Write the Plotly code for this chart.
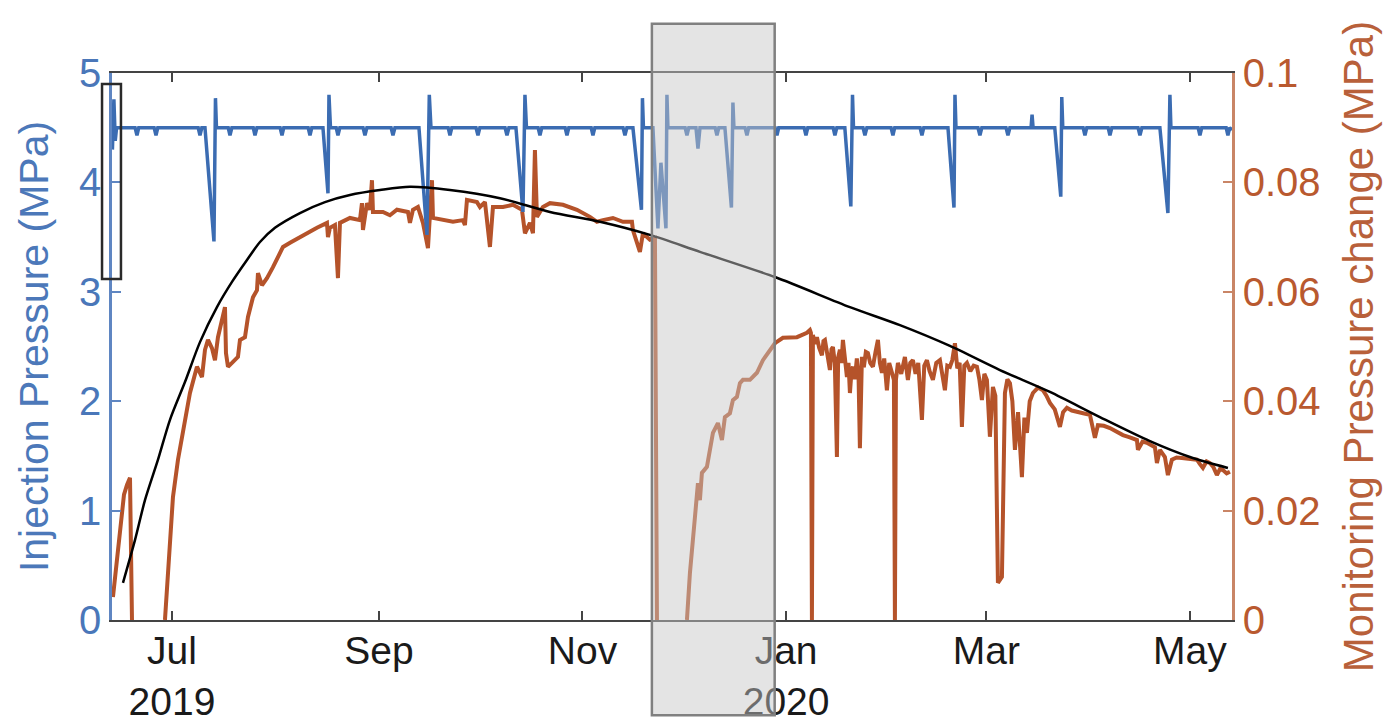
import pandas as pd
import plotly.graph_objects as go

BASE_DATE = "2019-07-01"  # day 0 of the day-offset columns below

# ---------------- Injection pressure (MPa), left axis ----------------
inj_day = [
    -17.85, -17.4, -17.0, -16.6,
    -11.05, -10.49, -9.95,
    -5.35, -4.79, -4.25,
    7.85, 8.39, 8.95,
    9.89, 12.58, 13.03, 13.33,
    16.85, 17.38, 17.95,
    24.35, 24.87, 25.45,
    32.4, 32.96, 33.5,
    40.8, 41.35, 41.9,
    45.24, 46.74, 47.04, 47.49,
    49.2, 49.73, 50.3,
    57.25, 57.82, 58.4,
    65.65, 66.21, 66.8,
    74.0, 76.4, 77.1, 77.6,
    82.75, 83.29, 83.85,
    91.1, 91.68, 92.25,
    99.8, 100.37, 100.95,
    103.06, 105.16, 105.76, 106.21,
    109.7, 110.25, 110.8,
    117.8, 118.34, 118.9,
    125.6, 126.13, 126.7,
    135.15, 135.72, 136.3,
    138.11, 140.66, 140.96, 141.26,
    144.1, 145.6, 146.5, 148.0, 148.3, 148.6,
    153.75, 154.29, 154.85,
    157.0, 157.6, 158.2,
    162.75, 163.28, 163.85,
    165.67, 167.62, 168.07, 168.37,
    171.7, 172.27, 172.8,
    180.7, 181.26, 181.8,
    189.4, 189.95, 190.5,
    198.1, 198.63, 199.2,
    201.6, 203.4, 203.9, 204.2,
    207.05, 207.62, 208.2,
    215.45, 216.01, 216.55,
    224.15, 224.7, 225.25,
    232.5, 234.3, 234.6, 234.9,
    241.5, 242.08, 242.65,
    249.9, 250.47, 251.05,
    257.4, 257.7, 258.0,
    264.5, 266.3, 266.6, 266.9,
    273.0, 273.54, 274.1,
    280.5, 281.03, 281.6,
    289.45, 290.02, 290.6,
    296.0, 298.4, 299.0, 299.3,
    307.45, 307.99, 308.55,
    315.85, 316.38, 316.9,
    317.6,
]
inj_mpa = [
    4.30, 4.76, 4.38, 4.50,
    4.50, 4.43, 4.50,
    4.50, 4.43, 4.50,
    4.50, 4.43, 4.50,
    4.50, 3.46, 4.77, 4.50,
    4.50, 4.43, 4.50,
    4.50, 4.43, 4.50,
    4.50, 4.43, 4.50,
    4.50, 4.43, 4.50,
    4.50, 3.90, 4.80, 4.50,
    4.50, 4.43, 4.50,
    4.50, 4.43, 4.50,
    4.50, 4.43, 4.50,
    4.50, 3.52, 4.80, 4.50,
    4.50, 4.43, 4.50,
    4.50, 4.43, 4.50,
    4.50, 4.43, 4.50,
    4.50, 3.73, 4.80, 4.50,
    4.50, 4.43, 4.50,
    4.50, 4.43, 4.50,
    4.50, 4.43, 4.50,
    4.50, 4.43, 4.50,
    4.50, 3.75, 4.77, 4.50,
    4.50, 3.58, 4.18, 3.58, 4.80, 4.50,
    4.50, 4.43, 4.50,
    4.50, 4.31, 4.50,
    4.50, 4.43, 4.50,
    4.50, 3.77, 4.73, 4.50,
    4.50, 4.43, 4.50,
    4.50, 4.43, 4.50,
    4.50, 4.43, 4.50,
    4.50, 4.43, 4.50,
    4.50, 3.78, 4.80, 4.50,
    4.50, 4.43, 4.50,
    4.50, 4.43, 4.50,
    4.50, 4.43, 4.50,
    4.50, 3.77, 4.80, 4.50,
    4.50, 4.43, 4.50,
    4.50, 4.43, 4.50,
    4.50, 4.62, 4.50,
    4.50, 3.87, 4.78, 4.50,
    4.50, 4.43, 4.50,
    4.50, 4.43, 4.50,
    4.50, 4.43, 4.50,
    4.50, 3.72, 4.80, 4.50,
    4.50, 4.43, 4.50,
    4.50, 4.43, 4.50,
    4.48,
]

# ---------------- Monitoring pressure change (MPa), right axis ----------------
mon_day = [
    -17.68, -16.48, -15.28, -14.38, -13.48, -12.58, -11.98, -7.0,
    -2.10, -0.90, 0.30, 1.80, 3.89, 5.39, 7.49, 8.99, 9.89, 10.79, 11.98, 12.88,
    13.78, 14.98, 15.88, 16.18, 16.78, 17.98, 19.77, 20.37, 21.87, 22.77, 24.27,
    25.47, 25.77, 26.96, 28.46, 30.26, 33.26, 35.5, 38.35, 41.0, 43.44, 46.44, 46.74, 47.34,
    48.83, 49.73, 50.33, 53.33, 56.32, 56.92, 57.22, 58.42, 59.32, 59.92, 60.22,
    63.22, 65.3, 67.41, 70.71, 71.30, 72.20, 73.70, 75.20, 76.70, 77.90, 78.20, 81.19,
    84.19, 87.18, 87.78, 88.38, 91.38, 92.28, 93.77, 95.27, 96.17, 99.17, 102.16,
    104.86, 105.76, 107.26, 108.16, 108.75, 109.35, 111.15, 113.25, 117.14,
    121.34, 125.23, 127.33, 129.13, 132.12, 135.12, 137.82, 138.11, 140.21,
    141.11, 143.21, 144.71, 145.31, 150.0,
    154.29, 155.19, 156.69, 157.59, 158.18, 158.78, 160.28, 162.08, 163.58,
    164.78, 165.67, 167.17, 168.07, 169.27, 170.17, 171.07, 173.17, 175.26,
    177.06, 179.16, 180.66, 183.05, 187.25, 190.25, 191.14, 191.44, 191.74,
    192.04, 192.6, 193.24, 193.9, 194.74, 195.2, 195.64, 196.3, 197.13, 197.6,
    198.03, 198.6, 199.23, 199.6, 200.13, 200.6, 201.03, 201.6, 202.23, 202.7,
    203.13, 203.6, 204.03, 204.6, 205.2, 205.7, 206.12, 206.72, 207.3, 207.9,
    208.52, 209.2, 210.02, 210.8, 211.52, 212.1, 212.72, 213.4, 214.21, 214.9,
    215.6, 216.31, 216.61, 216.91, 217.51, 218.5, 219.60, 220.50, 221.2, 222.00,
    222.8, 223.6, 224.70, 225.4, 226.20, 227.0, 227.99, 229.0, 230.09, 230.8,
    231.59, 232.3, 233.09, 233.8, 234.59, 235.3, 236.0, 236.68, 237.4, 238.18,
    239.2, 240.2, 241.18, 241.9, 242.68, 243.4, 244.17, 245.07, 245.97, 246.7,
    247.47, 248.67, 249.57, 250.3, 251.07, 251.8, 252.57, 253.5, 254.66, 255.4,
    256.16, 257.0, 257.96, 259.5, 260.95, 262.0, 263.05, 264.5, 266.05, 267.0,
    268.14, 269.6, 271.14, 273.0, 275.04, 276.53, 277.43, 279.2, 281.03, 283.0,
    284.92, 287.0, 289.12, 289.42, 290.8, 292.11, 293.3, 294.51, 295.11,
    296.01, 297.50, 298.40, 299.60, 301.0, 302.60, 304.8, 307.09, 308.0, 308.89,
    310.0, 310.98, 312.0, 313.08, 314.0, 314.88, 316.0, 316.98,
]
mon_mpa = [
    0.0042, 0.0110, 0.0183, 0.0229, 0.0247, 0.0260, 0.0, None,
    0.0, 0.0110, 0.0225, 0.0293, 0.0366, 0.0415, 0.0463, 0.0444, 0.0494, 0.0512, 0.0497, 0.0475,
    0.0517, 0.0545, 0.0572, 0.0488, 0.0463, 0.0470, 0.0481, 0.0512, 0.0517, 0.0554, 0.0590,
    0.0603, 0.0634, 0.0612, 0.0625, 0.0645, 0.0682, 0.0690, 0.0700, 0.0708, 0.0717, 0.0726, 0.0700, 0.0717,
    0.0722, 0.0625, 0.0726, 0.0735, 0.0731, 0.0762, 0.0713, 0.0762, 0.0750, 0.0804, 0.0746,
    0.0746, 0.0740, 0.0750, 0.0746, 0.0726, 0.0750, 0.0755, 0.0726, 0.0680, 0.0804, 0.0735, 0.0731,
    0.0728, 0.0731, 0.0722, 0.0768, 0.0764, 0.0755, 0.0764, 0.0682, 0.0755, 0.0755, 0.0759,
    0.0750, 0.0707, 0.0726, 0.0707, 0.0859, 0.0737, 0.0755, 0.0762, 0.0759,
    0.0750, 0.0737, 0.0728, 0.0731, 0.0735, 0.0728, 0.0728, 0.0713, 0.0673,
    0.0707, 0.0695, 0.0698, 0.0, None,
    0.0, 0.0086, 0.0188, 0.0250, 0.0219, 0.0269, 0.0280, 0.0342, 0.0360,
    0.0329, 0.0371, 0.0378, 0.0402, 0.0408, 0.0433, 0.0439, 0.0439, 0.0452,
    0.0475, 0.0494, 0.0506, 0.0516, 0.0517, 0.0525, 0.0530, 0.0525, 0.0,
    0.0521, 0.0505, 0.0517, 0.0498, 0.0484, 0.0510, 0.0512, 0.0490, 0.0457, 0.0495,
    0.0499, 0.0470, 0.0298, 0.0480, 0.0494, 0.0470, 0.0512, 0.0480, 0.0444, 0.0470,
    0.0415, 0.0455, 0.0463, 0.0440, 0.0478, 0.0450, 0.0314, 0.0481, 0.0462, 0.0490,
    0.0488, 0.0470, 0.0463, 0.0490, 0.0512, 0.0470, 0.0452, 0.0478, 0.0420, 0.0470,
    0.0455, 0.0439, 0.0, 0.0439, 0.0470, 0.0450, 0.0481, 0.0439, 0.0470, 0.0475,
    0.0450, 0.0470, 0.0366, 0.0465, 0.0475, 0.0455, 0.0439, 0.0470, 0.0475, 0.0450,
    0.0420, 0.0465, 0.0463, 0.0475, 0.0506, 0.0460, 0.0470, 0.0353, 0.0465, 0.0470,
    0.0455, 0.0465, 0.0463, 0.0440, 0.0402, 0.0450, 0.0439, 0.0335, 0.0426, 0.0410,
    0.0068, 0.0079, 0.0415, 0.0440, 0.0433, 0.0400, 0.0311, 0.0380, 0.0261, 0.0370,
    0.0342, 0.0400, 0.0415, 0.0425, 0.0420, 0.0410, 0.0397, 0.0385, 0.0353, 0.0380,
    0.0388, 0.0383, 0.0380, 0.0378, 0.0375, 0.0333, 0.0356, 0.0355, 0.0351, 0.0345,
    0.0338, 0.0334, 0.0329, 0.0311, 0.0326, 0.0324, 0.0320, 0.0316, 0.0287,
    0.0311, 0.0298, 0.0265, 0.0293, 0.0297, 0.0296, 0.0295, 0.0293, 0.0285, 0.0278,
    0.0290, 0.0287, 0.0280, 0.0265, 0.0276, 0.0274, 0.0268, 0.0271,
]

# ---------------- Fitted trend (black curve), right-axis units ----------------
fit_day = [-14.68, -11.09, -8.09, -4.19, -0.60, 3.89, 8.39, 13.48, 17.98, 22.47, 26.37,
           30.86, 38.35, 45.84, 53.33, 62.32, 71.30, 83.29, 98.27, 113.25, 128.23, 143.21,
           158.19, 180.66, 203.13, 218.11, 233.09, 248.07, 263.05, 278.03, 293.01, 305.0,
           316.38]
fit_mpa = [0.0068, 0.0146, 0.0219, 0.0293, 0.0366, 0.0435, 0.0508, 0.0572, 0.0618, 0.0658,
           0.0691, 0.0717, 0.0744, 0.0764, 0.0777, 0.0786, 0.0792, 0.0786, 0.0771, 0.0746,
           0.0728, 0.0704, 0.0673, 0.0627, 0.0572, 0.0539, 0.0501, 0.0457, 0.0417, 0.0371,
           0.0327, 0.0298, 0.0278]

# ---------------- Axes ticks ----------------
x_tick_dates = ["2019-07-01", "2019-09-01", "2019-11-01", "2020-01-01", "2020-03-01", "2020-05-01"]
x_tick_labels = ["Jul<br>2019", "Sep", "Nov", "Jan<br>2020", "Mar", "May"]
inj_ticks = [0, 1, 2, 3, 4, 5]
mon_ticks = [0, 0.02, 0.04, 0.06, 0.08, 0.1]
mon_tick_labels = ["0", "0.02", "0.04", "0.06", "0.08", "0.1"]

# highlighted period (grey box)
highlight_period = ["2019-11-21 19:00", "2019-12-28 14:00"]


def to_dates(days):
    return pd.Timestamp(BASE_DATE) + pd.to_timedelta(days, unit="D")


BLUE = "#3b6cb2"
BLUE_AX = "#5f86c2"
BLUE_TXT = "#4a77b9"
ORANGE = "#b5532a"
ORANGE_AX = "#c98566"
ORANGE_TXT = "#b9592f"
FONT = "Liberation Sans, Arial, Helvetica, sans-serif"

fig = go.Figure()

fig.add_trace(go.Scatter(
    x=to_dates(mon_day), y=mon_mpa, mode="lines", yaxis="y",
    line=dict(color=ORANGE, width=4), connectgaps=False, showlegend=False,
))
fig.add_trace(go.Scatter(
    x=to_dates(inj_day), y=inj_mpa, mode="lines", yaxis="y2",
    line=dict(color=BLUE, width=3.5), showlegend=False,
))
fig.add_trace(go.Scatter(
    x=to_dates(fit_day), y=fit_mpa, mode="lines", yaxis="y3",
    line=dict(color="black", width=2.5, shape="spline", smoothing=0.8), showlegend=False,
))

# plot area: x 112..1232, y 73..620
x_range = ["2019-06-13 00:45", "2020-05-13 14:30"]

fig.update_layout(
    width=1385, height=723,
    margin=dict(l=112, r=153, t=73, b=103),
    paper_bgcolor="white", plot_bgcolor="white",
    font=dict(family=FONT),
    xaxis=dict(
        type="date", range=x_range, automargin=False,
        tickmode="array", tickvals=x_tick_dates, ticktext=x_tick_labels,
        ticks="inside", ticklen=9, tickwidth=2, tickcolor="#444",
        showline=True, linecolor="#444", linewidth=2, mirror="ticks",
        showgrid=False, zeroline=False, ticklabelstandoff=-5,
        tickfont=dict(size=39, color="#1a1a1a", family=FONT),
    ),
    yaxis=dict(
        side="right", range=[0, 0.1], automargin=False,
        tickmode="array", tickvals=mon_ticks, ticktext=mon_tick_labels,
        ticks="inside", ticklen=9, tickwidth=2, tickcolor=ORANGE_AX,
        showline=True, linecolor=ORANGE_AX, linewidth=2.5,
        showgrid=False, zeroline=False,
        tickfont=dict(size=40, color=ORANGE_TXT, family=FONT),
        title=dict(text="Monitoring Pressure change (MPa)",
                   font=dict(size=42, color="#b8603a", family=FONT), standoff=24),
    ),
    yaxis2=dict(
        overlaying="y", side="left", range=[0, 5], automargin=False,
        tickmode="array", tickvals=inj_ticks,
        ticks="inside", ticklen=9, tickwidth=2, tickcolor=BLUE_AX,
        showline=True, linecolor=BLUE_AX, linewidth=2.5,
        showgrid=False, zeroline=False,
        tickfont=dict(size=40, color=BLUE_TXT, family=FONT),
        title=dict(text="Injection Pressure (MPa)",
                   font=dict(size=41, color="#4c78b9", family=FONT), standoff=18),
    ),
    yaxis3=dict(overlaying="y", range=[0, 0.1], visible=False),
)

# grey highlight box (semi-transparent, drawn above data, extends beyond plot)
fig.add_shape(
    type="rect", xref="x", yref="paper",
    x0=highlight_period[0], x1=highlight_period[1], y0=-0.174, y1=1.090,
    fillcolor="rgba(199,199,199,0.48)",
    line=dict(color="#808080", width=2.5), layer="above",
)
# small black box at the start of the record
fig.add_shape(
    type="rect", xref="paper", yref="paper",
    x0=-0.0089, x1=0.0080, y0=0.6234, y1=0.9799,
    fillcolor="rgba(0,0,0,0)",
    line=dict(color="#2a2a2a", width=2.5), layer="above",
)

fig.write_html("out.html")
